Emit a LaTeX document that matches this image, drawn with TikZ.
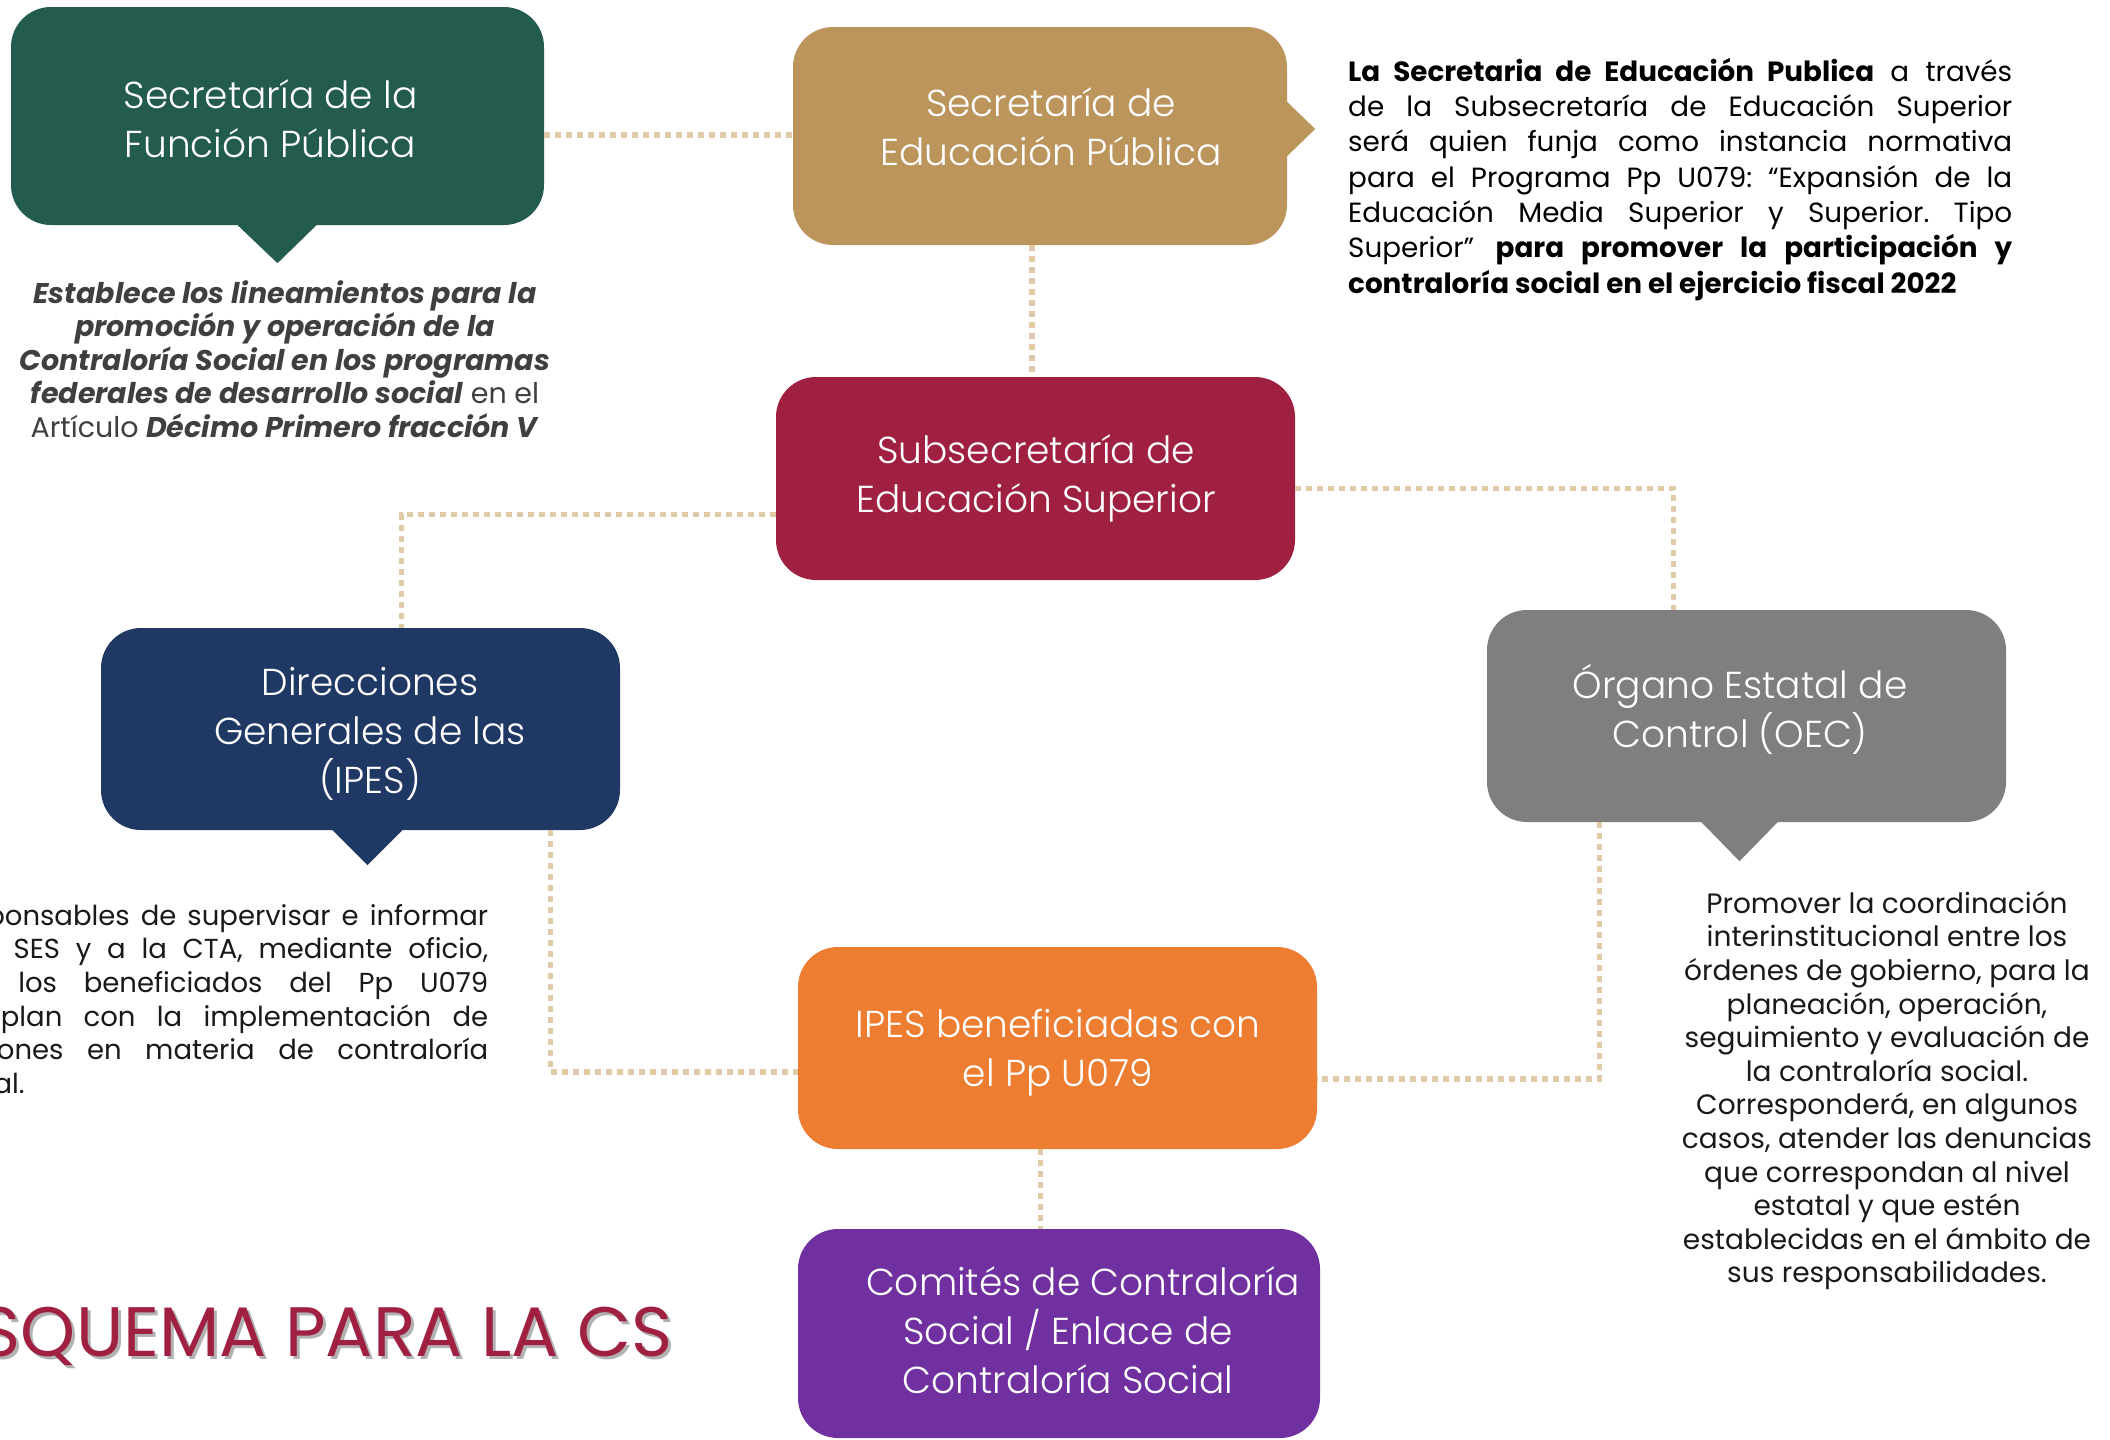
\documentclass[tikz,border=0pt]{standalone}
\usepackage{fontspec}
\setmainfont{Poppins}
\newfontfamily\lightfont{Poppins Light}
\usetikzlibrary{calc}
\frenchspacing
\definecolor{sfpc}{HTML}{235B4E}
\definecolor{sepc}{HTML}{BC955C}
\definecolor{subc}{HTML}{A02042}
\definecolor{dirc}{HTML}{203864}
\definecolor{orgc}{HTML}{7F7F7F}
\definecolor{ipesc}{HTML}{ED7D31}
\definecolor{comc}{HTML}{7030A0}
\definecolor{connc}{HTML}{DFCBA6}
\definecolor{darktxt}{HTML}{3F3F3F}
\tikzset{
 box/.style={rectangle, rounded corners=40pt, inner sep=0pt},
 boxtext/.style={text=white, align=center, inner sep=0pt,
   font=\lightfont\fontsize{37.5}{49}\selectfont},
 conn/.style={draw=connc, line width=5.5pt, dash pattern=on 6pt off 5pt},
 desc/.style={inner sep=0pt, font=\fontsize{26}{33.6}\selectfont},
}
\begin{document}
\begin{tikzpicture}[x=1pt,y=-1pt]
\useasboundingbox (0,0) rectangle (2110,1440);
\clip (0,0) rectangle (2110,1440);
% boxes
\node[box, fill=sfpc, minimum width=533pt, minimum height=218pt] (sfp) at (277.5,116) {};
\node[box, fill=sepc, minimum width=494pt, minimum height=218pt] (sep) at (1040,136) {};
\node[box, fill=subc, minimum width=519pt, minimum height=203pt] (sub) at (1035.5,478.5) {};
\node[box, fill=dirc, minimum width=519pt, minimum height=202pt] (dir) at (360.5,729) {};
\node[box, fill=orgc, minimum width=519pt, minimum height=212pt] (org) at (1746.5,716) {};
\node[box, fill=ipesc, minimum width=519pt, minimum height=202pt] (ipes) at (1057.5,1048) {};
\node[box, fill=comc, minimum width=522pt, minimum height=209pt] (com) at (1059,1333.5) {};
% box texts
\node[boxtext] (sfptxt) at (270.5,119) {Secretaría de la\\Función Pública};
\node[boxtext] (septxt) at (1051,127) {Secretaría de\\Educación Pública};
\node[boxtext] (subtxt) at (1036,478.5) {Subsecretaría de\\Educación Superior};
\node[boxtext] (dirtxt) at (370,734) {Direcciones\\Generales de las\\(IPES)};
\node[boxtext] (orgtxt) at (1740,709) {Órgano Estatal de\\Control (OEC)};
\node[boxtext] (ipestxt) at (1058,1053) {IPES beneficiadas con\\el Pp U079};
\node[boxtext] (comtxt) at (1068,1330) {\hspace*{30pt}Comités de Contraloría\\Social / Enlace de\\Contraloría Social};
% pointers
\fill[sfpc] ([xshift=-42pt,yshift=2pt]sfp.south) -- ([yshift=-38pt]sfp.south) -- ([xshift=41pt,yshift=2pt]sfp.south) -- cycle;
\fill[sepc] ([xshift=-2pt,yshift=36pt]sep.east) -- ([xshift=28pt,yshift=7pt]sep.east) -- ([xshift=-2pt,yshift=-22pt]sep.east) -- cycle;
\fill[dirc] ([xshift=-30pt,yshift=2pt]dir.south) -- ([xshift=7pt,yshift=-35pt]dir.south) -- ([xshift=44pt,yshift=2pt]dir.south) -- cycle;
\fill[orgc] ([xshift=-47pt,yshift=2pt]org.south) -- ([xshift=-7pt,yshift=-39pt]org.south) -- ([xshift=33pt,yshift=2pt]org.south) -- cycle;
% connectors
\draw[conn] (sfp.east |- 0,135) -- (sep.west |- 0,135);
\draw[conn] ([xshift=-8pt]sep.south) -- ([xshift=-8pt]sep.south |- sub.north);
\draw[conn] ([yshift=-36pt]sub.west) -| ([xshift=41pt]dir.north);
\draw[conn] ([yshift=-10pt]sub.east) -| ([xshift=-73pt]org.north);
\draw[conn] ([xshift=190pt]dir.south) |- ([yshift=-24pt]ipes.west);
\draw[conn] ([xshift=-147pt]org.south) |- ([yshift=-31pt]ipes.east);
\draw[conn] ([xshift=-17pt]ipes.south) -- ([xshift=-17pt]ipes.south |- com.north);
% descriptions
\node[desc, anchor=north, align=center, text=darktxt, font=\fontsize{28.5}{33.6}\selectfont] (sfpdesc) at (285,280) {%
\textbf{\textit{Establece los lineamientos para la}}\\
\textbf{\textit{promoción y operación de la}}\\
\textbf{\textit{Contraloría Social en los programas}}\\
\textbf{\textit{federales de desarrollo social}} en el\\
Artículo \textbf{\textit{Décimo Primero fracción V}}};
\node[desc, anchor=north west, align=left, text=black, font=\fontsize{27.8}{35.3}\selectfont] (sepdesc) at (1348,58) {%
\makebox[664pt][s]{\textbf{La Secretaria de Educación Publica} a través}\\
\makebox[664pt][s]{de la Subsecretaría de Educación Superior}\\
\makebox[664pt][s]{será quien funja como instancia normativa}\\
\makebox[664pt][s]{para el Programa Pp U079: “Expansión de la}\\
\makebox[664pt][s]{Educación Media Superior y Superior. Tipo}\\
\makebox[664pt][s]{Superior” \textbf{para promover la participación y}}\\
\textbf{contraloría social en el ejercicio fiscal 2022}};
\node[desc, anchor=north west, align=left, text=black!90, font=\fontsize{27.5}{33.6}\selectfont] (dirdesc) at (-62,904) {%
\makebox[550pt][s]{Responsables de supervisar e informar}\\
\makebox[550pt][s]{a la SES y a la CTA, mediante oficio,}\\
\makebox[550pt][s]{que los beneficiados del Pp U079}\\
\makebox[550pt][s]{cumplan con la implementación de}\\
\makebox[550pt][s]{acciones en materia de contraloría}\\
social.};
\node[desc, anchor=north, align=center, text=black!90, font=\fontsize{28}{33.6}\selectfont] (orgdesc) at (1887,891) {%
Promover la coordinación\\
interinstitucional entre los\\
órdenes de gobierno, para la\\
planeación, operación,\\
seguimiento y evaluación de\\
la contraloría social.\\
Corresponderá, en algunos\\
casos, atender las denuncias\\
que correspondan al nivel\\
estatal y que estén\\
establecidas en el ámbito de\\
sus responsabilidades.};
% title
\node[inner sep=0pt, anchor=base east, text=black!30, font=\fontsize{70}{80}\selectfont] (titleshadow) at (676,1359) {ESQUEMA PARA LA CS};
\node[inner sep=0pt, anchor=base east, text=subc, font=\fontsize{70}{80}\selectfont] (title) at (673,1356) {ESQUEMA PARA LA CS};
\end{tikzpicture}
\end{document}
